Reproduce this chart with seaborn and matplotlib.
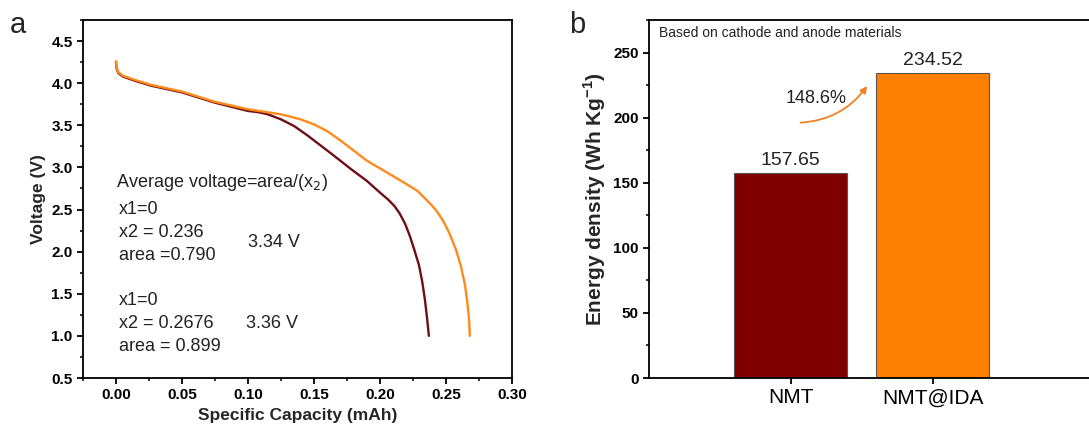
import numpy as np
import pandas as pd
import matplotlib
matplotlib.use("Agg")
import matplotlib.pyplot as plt
import seaborn as sns
from matplotlib.ticker import MultipleLocator

# ---- data: discharge curves (panel a) ----
cap_nmt = [0.0, 0.0005, 0.0018, 0.005, 0.014, 0.0265, 0.05, 0.0745, 0.10, 0.108,
           0.115, 0.125, 0.135, 0.145, 0.155, 0.165, 0.178, 0.19, 0.20, 0.206,
           0.211, 0.215, 0.219, 0.2225, 0.226, 0.2295, 0.232, 0.234, 0.2355, 0.237]
volt_nmt = [4.25, 4.17, 4.12, 4.08, 4.03, 3.97, 3.89, 3.77, 3.67, 3.655,
            3.63, 3.57, 3.49, 3.38, 3.26, 3.14, 2.98, 2.84, 2.70, 2.62,
            2.54, 2.45, 2.33, 2.19, 2.02, 1.84, 1.64, 1.43, 1.23, 1.0]

cap_ida = [0.0, 0.0005, 0.0018, 0.005, 0.014, 0.0265, 0.05, 0.0745, 0.10, 0.125,
           0.14, 0.15, 0.16, 0.17, 0.18, 0.19, 0.203, 0.216, 0.2285, 0.2386,
           0.243, 0.248, 0.2525, 0.2576, 0.2614, 0.2644, 0.2664, 0.2675, 0.268]
volt_ida = [4.26, 4.18, 4.13, 4.09, 4.04, 3.98, 3.90, 3.78, 3.69, 3.63,
            3.57, 3.51, 3.43, 3.32, 3.20, 3.08, 2.96, 2.84, 2.72, 2.56,
            2.48, 2.36, 2.22, 2.02, 1.82, 1.60, 1.36, 1.18, 1.0]

# ---- data: energy density (panel b) ----
samples = ["NMT", "NMT@IDA"]
energy = [157.65, 234.52]
increase_label = "148.6%"

line_colors = {"NMT": "#6e0f16", "NMT@IDA": "#ff8a1c"}
bar_colors = ["#800000", "#ff8000"]

sns.set_style("ticks")
plt.rcParams["font.family"] = ["Liberation Sans", "DejaVu Sans"]
plt.rcParams["axes.linewidth"] = 1.3
plt.rcParams["xtick.color"] = "black"
plt.rcParams["ytick.color"] = "black"
plt.rcParams["xtick.major.width"] = 1.3
plt.rcParams["ytick.major.width"] = 1.3
plt.rcParams["xtick.minor.width"] = 1.1
plt.rcParams["ytick.minor.width"] = 1.1
plt.rcParams["xtick.major.size"] = 4
plt.rcParams["ytick.major.size"] = 4
plt.rcParams["xtick.minor.size"] = 2.5
plt.rcParams["ytick.minor.size"] = 2.5

fig = plt.figure(figsize=(10.89, 4.34), dpi=100)
ax1 = fig.add_axes([0.0762, 0.129, 0.394, 0.825])
ax2 = fig.add_axes([0.596, 0.129, 0.41, 0.825])

# ----------------------------
# Panel a: discharge curves
# ----------------------------
curves = pd.concat([
    pd.DataFrame({"cap": cap_nmt, "volt": volt_nmt, "sample": "NMT"}),
    pd.DataFrame({"cap": cap_ida, "volt": volt_ida, "sample": "NMT@IDA"}),
])
sns.lineplot(data=curves, x="cap", y="volt", hue="sample", palette=line_colors,
             sort=False, estimator=None, linewidth=1.7, legend=False, ax=ax1)

ax1.set_xlim(-0.025, 0.30)
ax1.set_ylim(0.5, 4.75)
ax1.xaxis.set_minor_locator(MultipleLocator(0.025))
ax1.yaxis.set_major_locator(MultipleLocator(0.5))
ax1.yaxis.set_minor_locator(MultipleLocator(0.25))
xt = np.arange(0, 0.301, 0.05)
ax1.set_xticks(xt)
ax1.set_xticklabels([f"{v:.2f}" for v in xt])
for lab in ax1.get_xticklabels() + ax1.get_yticklabels():
    lab.set_fontweight("bold")
    lab.set_fontsize(11)
ax1.set_xlabel("Specific Capacity (mAh)", fontsize=12.5, fontweight="bold")
ax1.set_ylabel("Voltage (V)", fontsize=12.5, fontweight="bold")
for s in ax1.spines.values():
    s.set_visible(True)
    s.set_color("black")
    s.set_linewidth(1.3)

txt = dict(fontsize=13, color="#222222", va="center")
ax1.text(0.0, 2.82, "Average voltage=area/(x$_2$)", **txt)
ax1.text(0.0025, 2.50, "x1=0", **txt)
ax1.text(0.0025, 2.23, "x2 = 0.236", **txt)
ax1.text(0.0025, 1.96, "area =0.790", **txt)
ax1.text(0.0998, 2.11, "3.34 V", **txt)
ax1.text(0.0025, 1.42, "x1=0", **txt)
ax1.text(0.0025, 1.15, "x2 = 0.2676", **txt)
ax1.text(0.0025, 0.87, "area = 0.899", **txt)
ax1.text(0.0985, 1.15, "3.36 V", **txt)

# ----------------------------
# Panel b: energy density bars
# ----------------------------
bars = pd.DataFrame({"sample": samples, "energy": energy})
sns.barplot(data=bars, x="sample", y="energy", hue="sample", palette=bar_colors,
            saturation=1, width=0.8, edgecolor="#555555", linewidth=0.8,
            legend=False, ax=ax2)

ax2.set_xlim(-1.0, 2.15)
ax2.set_ylim(0, 275)
ax2.yaxis.set_major_locator(MultipleLocator(50))
ax2.yaxis.set_minor_locator(MultipleLocator(25))
for lab in ax2.get_yticklabels():
    lab.set_fontweight("bold")
    lab.set_fontsize(11)
for lab in ax2.get_xticklabels():
    lab.set_fontsize(15)
ax2.set_xlabel("")
ax2.set_ylabel("Energy density (Wh Kg$^{\\mathregular{-1}}$)", fontsize=15, fontweight="bold")
for name, s in ax2.spines.items():
    s.set_visible(name != "right")
    s.set_color("black")
    s.set_linewidth(1.3)

for i, v in enumerate(energy):
    ax2.text(i, v + 3, f"{v:.2f}", ha="center", va="bottom", fontsize=14, color="#222222")

ax2.text(-0.93, 265, "Based on cathode and anode materials", fontsize=10,
         va="center", ha="left", color="#222222")
ax2.annotate("", xy=(0.55, 226), xytext=(0.05, 196),
             arrowprops=dict(arrowstyle="-|>", color="#f08020", lw=1.3,
                             connectionstyle="arc3,rad=0.25", mutation_scale=10))
ax2.text(0.18, 214.5, increase_label, fontsize=13, ha="center", va="center", color="#222222")

fig.text(0.009, 0.975, "a", fontsize=21, va="top")
fig.text(0.523, 0.975, "b", fontsize=21, va="top")

fig.savefig("out.png", dpi=100)
